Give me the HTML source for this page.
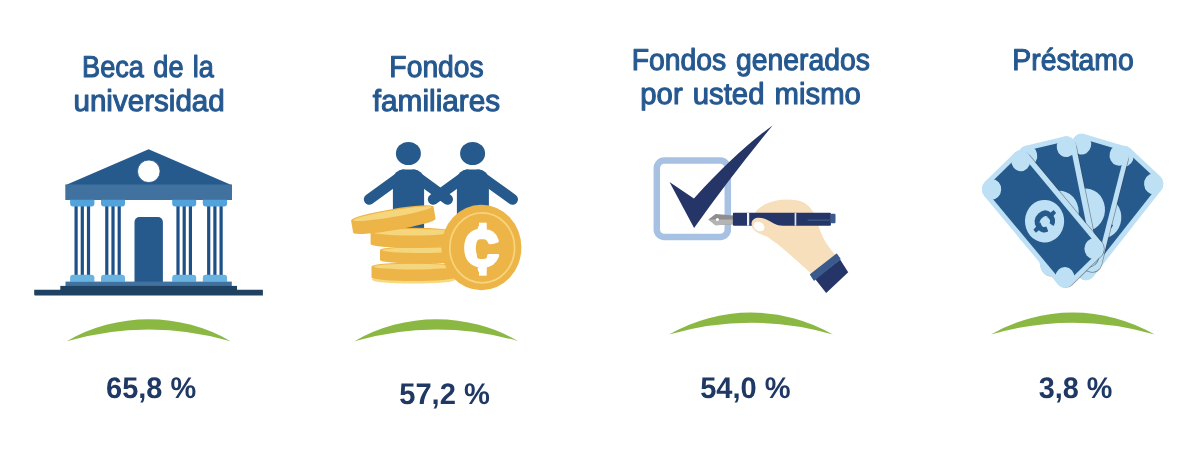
<!DOCTYPE html>
<html lang="es">
<head>
<meta charset="utf-8">
<title>Fuentes de financiamiento</title>
<style>
html,body{margin:0;padding:0;background:#fff;}
body{width:1200px;height:475px;overflow:hidden;position:relative;font-family:"Liberation Sans",sans-serif;}
svg{position:absolute;left:0;top:0;display:block;}
.h{font-family:"Liberation Sans",sans-serif;font-size:30.2px;fill:#25588f;stroke:#25588f;stroke-width:1.1px;stroke-linejoin:round;word-spacing:2px;text-rendering:geometricPrecision;}
.p{font-family:"Liberation Sans",sans-serif;font-size:29.7px;font-weight:bold;fill:#1f3864;text-rendering:geometricPrecision;}
</style>
</head>
<body>
<svg width="1200" height="475" viewBox="0 0 1200 475">
<defs>
<path id="arc" d="M-81.9 21.9 A164.1 164.1 0 0 1 81.9 21.9 A290 290 0 0 0 -81.9 21.9 Z"/>
</defs>
<!-- headings -->
<text class="h" x="82.12" y="77" textLength="131.84" lengthAdjust="spacingAndGlyphs">Beca de la</text>
<text class="h" x="73.45" y="111" textLength="151.34" lengthAdjust="spacingAndGlyphs">universidad</text>
<text class="h" x="389.36" y="77" textLength="94.38" lengthAdjust="spacingAndGlyphs">Fondos</text>
<text class="h" x="372.78" y="111" textLength="127.40" lengthAdjust="spacingAndGlyphs">familiares</text>
<text class="h" x="631.64" y="70" textLength="238.30" lengthAdjust="spacingAndGlyphs">Fondos generados</text>
<text class="h" x="640.32" y="104" textLength="220.54" lengthAdjust="spacingAndGlyphs">por usted mismo</text>
<text class="h" x="1012.37" y="70" textLength="121.40" lengthAdjust="spacingAndGlyphs">Préstamo</text>
<!-- arcs -->
<use href="#arc" x="148.7" y="319.3" fill="#8ab843"/>
<use href="#arc" x="436.4" y="319.3" fill="#8ab843"/>
<use href="#arc" x="751" y="312.6" fill="#8ab843"/>
<use href="#arc" x="1072.8" y="312.6" fill="#8ab843"/>
<!-- percents -->
<text class="p" x="106.11" y="398" textLength="90.06" lengthAdjust="spacingAndGlyphs">65,8 %</text>
<text class="p" x="399.18" y="404" textLength="90.74" lengthAdjust="spacingAndGlyphs">57,2 %</text>
<text class="p" x="700.13" y="398" textLength="90.41" lengthAdjust="spacingAndGlyphs">54,0 %</text>
<text class="p" x="1038.73" y="398" textLength="73.70" lengthAdjust="spacingAndGlyphs">3,8 %</text>

<!-- ICON 1: building -->
<g id="building">
<polygon points="148.6,149.2 232,185.2 65.3,185.2" fill="#275a8c"/>
<rect x="65.3" y="184.5" width="166.7" height="15.5" fill="#41729f"/>
<circle cx="148.8" cy="171.3" r="11.3" fill="#fff" stroke="#1d4f85" stroke-width="0.8"/>
<g fill="#1d5086">
<rect x="74.5" y="205" width="3.2" height="71"/><rect x="80.7" y="205" width="3.2" height="71"/><rect x="86.9" y="205" width="3.2" height="71"/>
<rect x="105.2" y="205" width="3.2" height="71"/><rect x="111.4" y="205" width="3.2" height="71"/><rect x="117.6" y="205" width="3.2" height="71"/>
<rect x="176.4" y="205" width="3.2" height="71"/><rect x="182.6" y="205" width="3.2" height="71"/><rect x="188.8" y="205" width="3.2" height="71"/>
<rect x="207.1" y="205" width="3.2" height="71"/><rect x="213.3" y="205" width="3.2" height="71"/><rect x="219.5" y="205" width="3.2" height="71"/>
</g>
<g fill="#52a2dc">
<path d="M70.1 199.8h24.3v3.6a3 3 0 0 1-3 3h-18.3a3 3 0 0 1-3-3z"/>
<path d="M101 199.8h24v3.6a3 3 0 0 1-3 3h-18a3 3 0 0 1-3-3z"/>
<path d="M172.2 199.8h24v3.6a3 3 0 0 1-3 3h-18a3 3 0 0 1-3-3z"/>
<path d="M202.8 199.8h24.3v3.6a3 3 0 0 1-3 3h-18.3a3 3 0 0 1-3-3z"/>
</g>
<g fill="#69b3e1">
<path d="M70.1 281.8v-4a3 3 0 0 1 3-3h18.3a3 3 0 0 1 3 3v4z"/>
<path d="M101 281.8v-4a3 3 0 0 1 3-3h18a3 3 0 0 1 3 3v4z"/>
<path d="M172.2 281.8v-4a3 3 0 0 1 3-3h18a3 3 0 0 1 3 3v4z"/>
<path d="M202.8 281.8v-4a3 3 0 0 1 3-3h18.3a3 3 0 0 1 3 3v4z"/>
</g>
<path d="M134.5 282v-60a5 5 0 0 1 5-5h18.4a5 5 0 0 1 5 5v60z" fill="#275a8c"/>
<rect x="65.5" y="281.6" width="166.3" height="4.6" fill="#41729f"/>
<rect x="60.3" y="285.9" width="176.7" height="4.4" fill="#1f4262"/>
<path d="M34.2 289.8h228.7v5.8h-227.7a1 1 0 0 1-1-1z" fill="#1f4262"/>
</g>

<!-- ICON 2: people and coins -->
<g id="people" fill="#275a8c" stroke="#275a8c" stroke-linecap="round">
<ellipse cx="408.4" cy="153.5" rx="12.5" ry="11.6" stroke="none"/>
<ellipse cx="472.6" cy="153.5" rx="12.5" ry="11.6" stroke="none"/>
<path d="M392.9 230v-50a10.5 10.5 0 0 1 10.5-10.5h10.2a10.5 10.5 0 0 1 10.5 10.5v50z" stroke="none"/>
<path d="M456.9 230v-50a10.5 10.5 0 0 1 10.5-10.5h11a10.5 10.5 0 0 1 10.5 10.5v50z" stroke="none"/>
<path d="M403 174.8L369.2 199.3M414 174.8L447.6 199.3M467 174.8L433.2 199.3M478.5 174.8L512.6 199.3" fill="none" stroke-width="10.8"/>
</g>
<g id="coins">
<!-- bottom shadow -->
<ellipse cx="413.5" cy="279.6" rx="42" ry="4" fill="#f6d983"/>
<!-- coin 4 -->
<path d="M371.5 266.4v11a42 3.6 0 0 0 84 0v-11z" fill="#edb548"/>
<ellipse cx="413.5" cy="266.4" rx="42" ry="3.6" fill="#edb548"/>
<ellipse cx="413.5" cy="266.6" rx="40" ry="2.8" fill="#f5d67c"/>
<!-- coin 3 -->
<path d="M380 250v10a42 3.6 0 0 0 84 0v-10z" fill="#edb548"/>
<ellipse cx="422" cy="250" rx="42" ry="3.6" fill="#edb548"/>
<ellipse cx="422" cy="250.2" rx="40" ry="2.8" fill="#f5d67c"/>
<!-- coin 2 -->
<path d="M370.6 232v12a42 4 0 0 0 84 0v-12z" fill="#edb548"/>
<ellipse cx="412.6" cy="232" rx="42" ry="4.2" fill="#edb548"/>
<ellipse cx="412.6" cy="232.2" rx="39.8" ry="3.3" fill="#f5d67c"/>
<!-- coin 1 tilted -->
<g transform="translate(392.3 213.5) rotate(-9.6)">
<path d="M-41.8 0v12.4a41.8 4.4 0 0 0 83.6 0v-12.4z" fill="#edb548"/>
<ellipse cx="0" cy="0" rx="41.8" ry="4.4" fill="#edb548"/>
<ellipse cx="0" cy="0.2" rx="39.6" ry="3.3" fill="#f5d67c"/>
</g>
<!-- big coin -->
<ellipse cx="481.4" cy="247.5" rx="40" ry="42.8" fill="#edb548"/>
<ellipse cx="482.2" cy="247.8" rx="32.4" ry="35" fill="none" stroke="#f6d57c" stroke-width="1.7"/>
<g transform="translate(481.75 248.9)">
<text transform="scale(0.973 1)" x="-0.35" y="16.2" font-family="'Liberation Sans',sans-serif" font-weight="bold" font-size="47.2" fill="#fff" stroke="#fff" stroke-width="5" stroke-linejoin="round" text-anchor="middle">₵</text>
<rect x="-4.95" y="-9.6" width="10.4" height="19.6" rx="3.5" fill="#edb548"/>
<rect x="3" y="-4.5" width="16" height="9.6" fill="#edb548"/>
<rect x="-2.75" y="-26.2" width="7.7" height="10" fill="#fff"/>
<rect x="-2.75" y="16.6" width="7.7" height="10.2" fill="#fff"/>
</g>
</g>

<!-- ICON 3: checkbox, pen, hand -->
<g id="sign">
<rect x="656.8" y="160.5" width="71" height="76.5" rx="7.5" ry="7.5" fill="#fff" stroke="#a7c1e3" stroke-width="6.5"/>
<path d="M669.5 182L693.9 198.4Q737.2 151 772.6 125.4Q729.5 178 694.1 227.9Z" fill="#253568"/>
<!-- hand -->
<path d="M752.6 218C754 210 764 203 776.4 200.4C786 198.6 798 199.4 804.2 202.7C810 206 814 212 816 218C819 228 822 236 825 241C828 246 832 251 835.4 255.3L811.1 273.8C805 268 798 262 792.6 257.1C787 252 781 247 776.4 243.3C770 238.5 763 234 758 231C754 228.5 752 224 752.6 218Z" fill="#f8dfbc"/>
<!-- pen -->
<path d="M708.4 219.6L715.6 213.9L733.5 215.4v8.8L715.6 225.3Z" fill="#8d8d8d"/>
<path d="M708.4 219.6L733.5 219.6v4.6L715.6 225.3Z" fill="#b4b4b4"/>
<circle cx="717.4" cy="219.6" r="1.5" fill="#fff"/>
<rect x="732.9" y="212.8" width="98" height="12.9" rx="1" fill="#253568"/>
<rect x="830.6" y="213.8" width="4.9" height="9.4" rx="1" fill="#3a5a8c"/>
<rect x="747" y="212.8" width="2.2" height="12.9" fill="#f2f4f8"/>
<rect x="794.6" y="212.8" width="1.7" height="12.9" fill="#dfe3ec"/>
<rect x="807.7" y="219.6" width="22" height="1" fill="#3f6796"/>
<!-- thumb over pen -->
<path d="M751.5 223.5C751.8 219.8 755 217.8 758.8 217.8C762.5 217.8 765.5 218.8 768.5 220.6C771.5 222.4 775 224.4 779 225.4L791 227L770 237Q751 233 751.5 223.5Z" fill="#f8dfbc"/>
<ellipse cx="759" cy="226.5" rx="5.7" ry="4.5" transform="rotate(32 759 226.5)" fill="#fff"/>
<!-- cuff + sleeve -->
<polygon points="815.1,279.1 840.1,259.5 848.2,272.2 826.2,293" fill="#253568"/>
<polygon points="810.7,274.5 836.6,254.4 839.8,259 814.1,279.9" fill="#3a5a8c" stroke="#3a5a8c" stroke-width="1.5" stroke-linejoin="round"/>
</g>

<!-- ICON 4: banknotes -->
<g id="notes" transform="scale(1 1.085)">
<g transform="translate(1103.18 198.15) rotate(130.5)">
<rect x="-64.25" y="-29.35" width="123.50" height="58.30" rx="9.6" fill="#bde0f5"/>
<rect x="-59.65" y="-24.35" width="114.30" height="48.70" fill="#275a8c"/>
<g fill="#bde0f5"><circle cx="-54.65" cy="-19.75" r="9.6"/><circle cx="49.65" cy="-19.75" r="9.6"/><circle cx="-54.65" cy="19.35" r="9.6"/><circle cx="49.65" cy="19.35" r="9.6"/><circle cx="2.6" cy="-0.3" r="19.6"/></g>
<rect x="1" y="-13.9" width="3.8" height="4.6" fill="#275a8c"/>
</g>
<g transform="translate(1085.8 190.64) rotate(105.4)">
<rect x="-61.75" y="-29.95" width="118.80" height="58.10" rx="9.6" fill="#3a3f4a" opacity="0.5"/>
<rect x="-64.25" y="-29.15" width="120.50" height="58.10" rx="9.6" fill="#bde0f5"/>
<rect x="-59.65" y="-24.35" width="111.30" height="48.70" fill="#275a8c"/>
<g fill="#bde0f5"><circle cx="-54.65" cy="-19.55" r="9.6"/><circle cx="46.65" cy="-19.55" r="9.6"/><circle cx="-54.65" cy="19.35" r="9.6"/><circle cx="46.65" cy="19.35" r="9.6"/><circle cx="2.6" cy="-0.3" r="19.6"/></g>
</g>
<g transform="translate(1058.3 192.9) rotate(77.6)">
<rect x="-61.75" y="-30.65" width="120.80" height="58.80" rx="9.6" fill="#3a3f4a" opacity="0.5"/>
<rect x="-64.25" y="-29.85" width="122.50" height="58.80" rx="9.6" fill="#bde0f5"/>
<rect x="-59.65" y="-24.35" width="113.30" height="48.70" fill="#275a8c"/>
<g fill="#bde0f5"><circle cx="-54.65" cy="-20.25" r="9.6"/><circle cx="48.65" cy="-20.25" r="9.6"/><circle cx="-54.65" cy="19.35" r="9.6"/><circle cx="48.65" cy="19.35" r="9.6"/><circle cx="2.6" cy="-0.3" r="19.6"/></g>
<rect x="1" y="-13.9" width="3.8" height="4.6" fill="#275a8c"/>
</g>
<g transform="translate(1042.6 202.1) rotate(47.93)">
<rect x="-61.75" y="-30.35" width="126.80" height="58.50" rx="9.6" fill="#3a3f4a" opacity="0.5"/>
<rect x="-64.25" y="-29.55" width="128.50" height="58.50" rx="9.6" fill="#bde0f5"/>
<rect x="-59.65" y="-24.35" width="119.30" height="48.70" fill="#275a8c"/>
<g fill="#bde0f5"><circle cx="-54.65" cy="-19.95" r="9.6"/><circle cx="54.65" cy="-19.95" r="9.6"/><circle cx="-54.65" cy="19.35" r="9.6"/><circle cx="54.65" cy="19.35" r="9.6"/><circle cx="2.6" cy="-0.3" r="19.6"/></g>
<g transform="translate(2.6 -0.3)">
<text x="-0.2" y="9.1" font-family="'Liberation Sans',sans-serif" font-weight="bold" font-size="26" fill="#275a8c" stroke="#275a8c" stroke-width="1.7" stroke-linejoin="round" text-anchor="middle">₵</text>
<ellipse cx="1" cy="0" rx="4.2" ry="4.8" fill="#bde0f5"/>
<rect x="-1.6" y="-13.6" width="3.8" height="5" fill="#275a8c"/>
<rect x="-1.6" y="8.6" width="3.8" height="5" fill="#275a8c"/>
</g>
</g>
</g>
</svg>
</body>
</html>
